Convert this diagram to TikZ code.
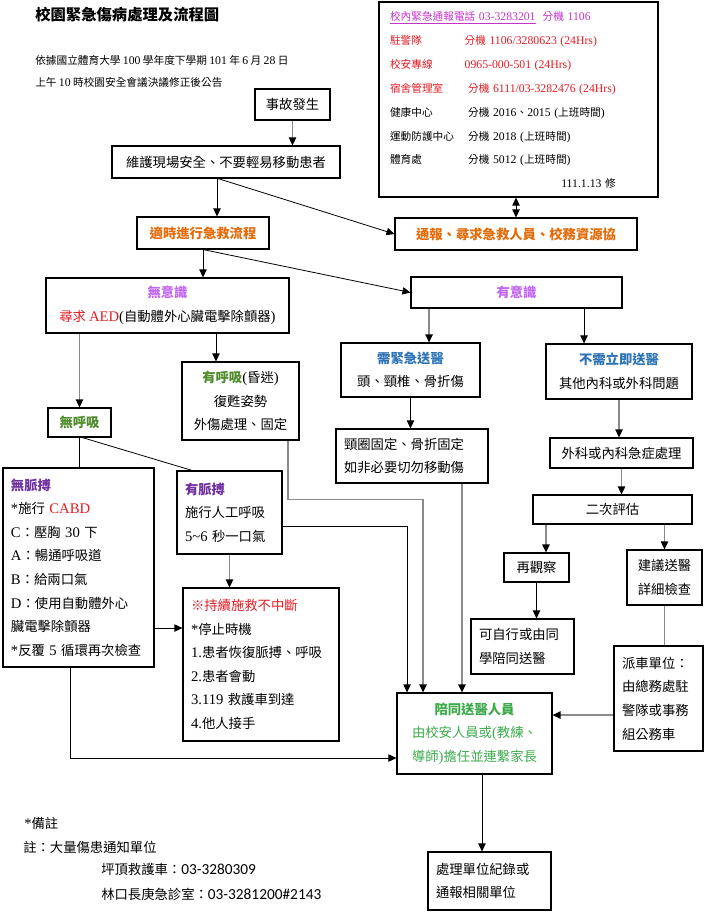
\documentclass[tikz,border=0pt]{standalone}
\usepackage{fontspec}
\setmainfont{Noto Sans CJK TC}
\newfontfamily\enfont[Scale=1.1]{Liberation Serif}
\newfontfamily\notefont[Scale=1.15]{Carlito}
\newcommand\entxt[1]{{\enfont #1}}
\newcommand\infolabel[1]{\makebox[56pt][l]{#1}}
\usetikzlibrary{arrows.meta,positioning}
\definecolor{rescueorange}{HTML}{E46C0A}
\definecolor{lilac}{HTML}{C266F2}
\definecolor{pulsepurple}{HTML}{7030A0}
\definecolor{breathgreen}{HTML}{4E8B2A}
\definecolor{escortgreen}{HTML}{3BAA4A}
\definecolor{sendblue}{HTML}{2E74B5}
\definecolor{alertred}{HTML}{E31B23}
\definecolor{hotline}{HTML}{C433CC}
\definecolor{linkgray}{HTML}{8A8A8A}

\begin{document}
\begin{tikzpicture}[
  x=0.75pt, y=-0.75pt,
  >={Triangle[length=6pt,width=5.5pt,color=black]},
  box/.style={draw, line width=0.8pt, align=center, inner sep=2pt, font=\fontsize{10}{17.7}\selectfont},
  lbox/.style={box, align=left, inner xsep=6pt},
  plain/.style={anchor=west, inner sep=0pt},
  link/.style={line width=0.6pt},
  glink/.style={draw=linkgray, line width=1pt},
]
\useasboundingbox (0,0) rectangle (713,912);
% heading
\node[plain,font=\fontsize{11.5}{14}\selectfont\bfseries] (title) at (35,15) {校園緊急傷病處理及流程圖};
\node[plain,font=\fontsize{8}{10}\selectfont] (basis)  at (35,60) {依據國立體育大學 \entxt{100} 學年度下學期 \entxt{101} 年 \entxt{6} 月 \entxt{28} 日};
\node[plain,font=\fontsize{8}{10}\selectfont] (basis2) at (35,82) {上午 \entxt{10} 時校園安全會議決議修正後公告};
% phone list
\node[draw, line width=0.8pt, align=left, inner xsep=8.25pt, inner ysep=0pt, text width=192.75pt, minimum height=146.25pt,
      font=\fontsize{8}{17.9}\selectfont] (info) at (518.5,99.5) {%
\begin{tabular}{@{}l@{}l@{}}
\multicolumn{2}{@{}l@{}}{\color{hotline}\underline{校內緊急通報電話\ \entxt{03-3283201}}\ \ 分機 \entxt{1106}}\\
\infolabel{\color{alertred}駐警隊} & {\color{alertred}分機 \entxt{1106/3280623 (24Hrs)}}\\
\infolabel{\color{alertred}校安專線} & {\color{alertred}\entxt{0965-000-501 (24Hrs)}}\\
\infolabel{\color{alertred}宿舍管理室} & {\color{alertred}\ 分機 \entxt{6111/03-3282476 (24Hrs)}}\\
\infolabel{健康中心} & \ 分機 \entxt{2016}、\entxt{2015} \entxt{(}上班時間\entxt{)}\\
\infolabel{運動防護中心} & \ 分機 \entxt{2018} \entxt{(}上班時間\entxt{)}\\
\infolabel{體育處} & \ 分機 \entxt{5012} \entxt{(}上班時間\entxt{)}\\
\multicolumn{2}{@{}r@{}}{\entxt{111.1.13} 修}
\end{tabular}};
% main flow
\node[box,minimum width=56.25pt,minimum height=23.25pt] (accident) at (292.5,104.5) {事故發生};
\node[box,minimum width=171pt,minimum height=24pt]      (keep)     at (226,162) {維護現場安全、不要輕易移動患者};
\node[box,minimum width=99pt,minimum height=24pt]       (rescue)   at (203,233) {{\color{rescueorange}\bfseries 適時進行急救流程}};
\node[box,minimum width=181.5pt,minimum height=24pt]    (report)   at (516,234) {{\color{rescueorange}\bfseries 通報、尋求急救人員、校務資源協}};
\node[box,minimum width=182.25pt,minimum height=41.25pt] (uncons)  at (167.5,305.5)
  {{\color{lilac}\bfseries 無意識}\\{\color{alertred}尋求 \entxt{AED}}\entxt{(}自動體外心臟電擊除顫器\entxt{)}};
\node[box,minimum width=158.25pt,minimum height=23.25pt] (cons)    at (516.5,292.5) {{\color{lilac}\bfseries 有意識}};
\node[box,minimum width=47.25pt,minimum height=21.75pt] (nobreath) at (79.5,422.5) {{\color{breathgreen}\bfseries 無呼吸}};
\node[box,minimum width=87.75pt,minimum height=58.5pt]  (breath)   at (240.5,401)
  {{\color{breathgreen}\bfseries 有呼吸}\entxt{(}昏迷\entxt{)}\\復甦姿勢\\外傷處理、固定};
\node[box,minimum width=104.25pt,minimum height=40.5pt] (urgent)   at (410.5,370) {{\color{sendblue}\bfseries 需緊急送醫}\\頭、頸椎、骨折傷};
\node[box,minimum width=109.5pt,minimum height=41.25pt] (nonurgent) at (619,371.5) {{\color{sendblue}\bfseries 不需立即送醫}\\其他內科或外科問題};
\node[lbox,text width=102pt,minimum height=40.5pt]      (fix)      at (412,456) {頸圈固定、骨折固定\\如非必要切勿移動傷};
\node[box,minimum width=107.25pt,minimum height=22.5pt] (treat)    at (621.5,453) {外科或內科急症處理};
\node[box,minimum width=119.25pt,minimum height=21.75pt] (reassess) at (612.5,509.5) {二次評估};
\node[box,minimum width=48.75pt,minimum height=21.75pt] (observe)  at (536.5,567.5) {再觀察};
\node[box,minimum width=56.25pt,minimum height=41.25pt] (suggest)  at (664.5,577.5) {建議送醫\\詳細檢查};
\node[lbox,text width=65.25pt,minimum height=41.25pt]   (selfgo)   at (522.5,646.5) {可自行或由同\\學陪同送醫};
\node[lbox,text width=54.75pt,minimum height=78.75pt]   (dispatch) at (658.5,698.5) {派車單位：\\由總務處駐\\警隊或事務\\組公務車};
\node[box,text=escortgreen,minimum width=116.25pt,minimum height=60.75pt] (escort) at (474.5,733.5)
  {{\bfseries 陪同送醫人員}\\由校安人員或\entxt{(}教練、\\導師\entxt{)}擔任並連繫家長};
\node[lbox,text width=101.25pt,minimum height=149.25pt] (nopulse)  at (78.5,567.5)
  {{\color{pulsepurple}\bfseries 無脈搏}\\
   \entxt{*}施行 {\color{alertred}\entxt{CABD}}\\
   \entxt{C}：壓胸 \entxt{30} 下\\
   \entxt{A}：暢通呼吸道\\
   \entxt{B}：給兩口氣\\
   \entxt{D}：使用自動體外心\\
   臟電擊除顫器\\
   \entxt{*}反覆 \entxt{5} 循環再次檢查};
\node[lbox,text width=66.75pt,minimum height=62.25pt]   (pulse)    at (229.5,512.5)
  {{\color{pulsepurple}\bfseries 有脈搏}\\施行人工呼吸\\\entxt{5\textasciitilde6} 秒一口氣};
\node[lbox,text width=105pt,minimum height=114.75pt]    (keepon)   at (261,664.5)
  {{\color{alertred}※持續施救不中斷}\\\entxt{*}停止時機\\\entxt{1.}患者恢復脈搏、呼吸\\\entxt{2.}患者會動\\\entxt{3.119} 救護車到達\\\entxt{4.}他人接手};
\node[lbox,text width=80.25pt,minimum height=43.5pt]    (record)   at (489.5,881) {處理單位紀錄或\\通報相關單位};
% notes
\node[plain,font=\fontsize{10}{12}\selectfont] (note)  at (24,823) {\entxt{*}備註};
\node[plain,font=\fontsize{10}{12}\selectfont] (note1) at (23,847) {註：大量傷患通知單位};
\node[plain,font=\fontsize{10}{12}\selectfont] (note2) at (101,869) {坪頂救護車：{\notefont 03-3280309}};
\node[plain,font=\fontsize{10}{12}\selectfont] (note3) at (101,894) {林口長庚急診室：{\notefont 03-3281200\#2143}};

\foreach \a/\b in {accident/keep,nonurgent/treat,treat/reassess} \draw[glink,->] (\a.south) -- (\a.south |- \b.north);
\foreach \a/\b in {rescue/uncons,urgent/fix,observe/selfgo} \draw[link,->] (\a.south) -- (\a.south |- \b.north);
\draw[link,->] ([xshift=-6.75pt]keep.south) -- ([xshift=-6.75pt]keep.south |- rescue.north);
\draw[link,->] ([xshift=-6pt]keep.south) -- (report.west);
\draw[link,<->] (report.north) -- (report.north |- info.south);
\draw[link,->] (rescue.south) -- (cons.west);
\draw[glink,->] (nobreath.north |- uncons.south) -- (nobreath.north);
\draw[link,->] ([xshift=-18.4pt]breath.north |- uncons.south) -- ([xshift=-18.4pt]breath.north);
\draw[glink,->] ([xshift=13.9pt]urgent.north |- cons.south) -- ([xshift=13.9pt]urgent.north);
\draw[link,->] ([xshift=-26.25pt]nonurgent.north |- cons.south) -- ([xshift=-26.25pt]nonurgent.north);
\draw[glink,->] ([xshift=7.1pt]observe.north |- reassess.south) -- ([xshift=7.1pt]observe.north);
\draw[glink,->] (suggest.north |- reassess.south) -- (suggest.north);
\draw[glink] (suggest.south) -- (suggest.south |- dispatch.north);
\draw[glink,->] ([yshift=-12.4pt]dispatch.west) -- ([yshift=-12.4pt]dispatch.west -| escort.east);
% no breath branch
\draw[link] (nobreath.south) -- (nobreath.south |- nopulse.north);
\draw[link] ([xshift=2pt]nobreath.south) -- ([xshift=-28pt]pulse.north);
\draw[glink,->] (pulse.south) -- (pulse.south |- keepon.north);
\draw[link,->] ([yshift=-45.4pt]nopulse.east) -- ([yshift=-45.4pt]nopulse.east -| keepon.west);
% everything ends at the escort box
\draw[glink,->] ([xshift=35.6pt]breath.south) -- ++(0pt,-44.25pt) -| ([xshift=-38.6pt]escort.north);
\draw[link,->] ([yshift=-10.1pt]pulse.east) -| ([xshift=-50.6pt]escort.north);
\draw[glink,->] ([xshift=-9.4pt]escort.north |- fix.south) -- ([xshift=-9.4pt]escort.north);
\draw[link,->] ([xshift=-6.4pt]nopulse.south) |- ([yshift=-18.4pt]escort.west);
\draw[link,->] ([xshift=5.6pt]escort.south) -- ([xshift=5.6pt]escort.south |- record.north);
\end{tikzpicture}
\end{document}
